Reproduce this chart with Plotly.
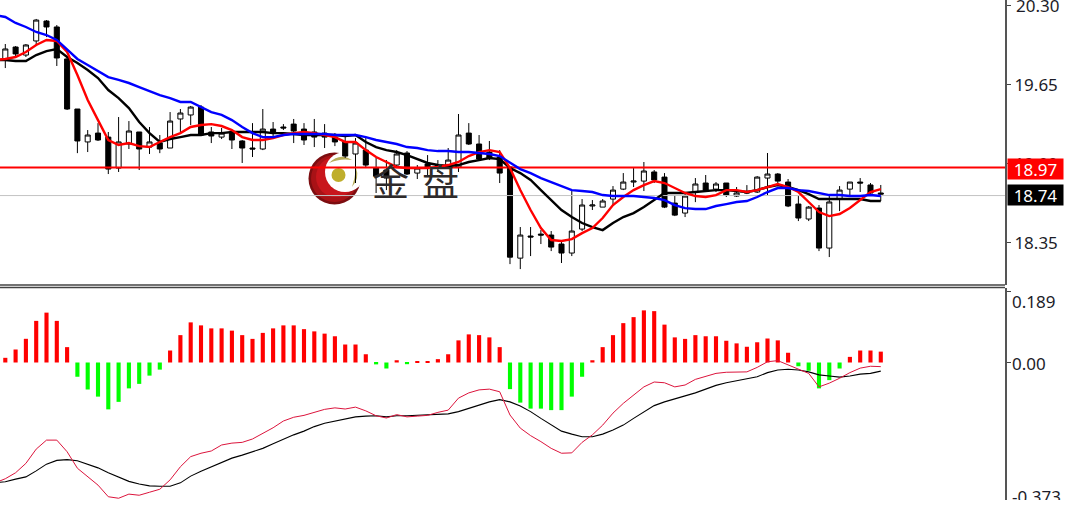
import plotly.graph_objects as go

# ---------- price panel data ----------
opens = [19.864,19.962,19.896,20.012,20.176,20.127,19.864,19.452,19.181,19.254,
 19.221,18.966,19.164,19.263,19.139,19.172,19.131,19.370,19.403,19.468,
 19.263,19.221,19.254,19.189,19.131,19.123,19.287,19.304,19.328,19.287,
 19.263,19.254,19.221,19.181,19.082,19.114,18.966,18.950,18.991,19.090,
 18.925,19.000,18.991,18.975,18.975,19.254,19.164,19.098,19.057,18.975,
 18.225,18.407,18.423,18.415,18.341,18.267,18.464,18.654,18.645,18.711,
 18.793,18.851,18.859,18.934,18.892,18.678,18.596,18.769,18.843,18.793,
 18.843,18.736,18.769,18.769,18.884,18.917,18.851,18.670,18.547,18.637,
 18.308,18.711,18.793,18.851,18.827,18.761]
highs = [19.987,19.970,19.987,20.193,20.184,20.143,19.888,19.452,19.279,19.336,
 19.263,19.386,19.353,19.263,19.304,19.238,19.427,19.452,19.477,19.485,
 19.304,19.296,19.263,19.197,19.336,19.452,19.345,19.328,19.370,19.336,
 19.370,19.328,19.254,19.238,19.213,19.213,19.049,19.032,19.114,19.106,
 18.991,19.073,19.032,19.131,19.411,19.336,19.238,19.189,19.114,18.975,
 18.481,18.481,18.456,18.448,18.366,18.777,18.711,18.703,18.711,18.818,
 18.925,18.966,19.016,18.950,18.925,18.744,18.752,18.884,18.909,18.851,
 18.843,18.810,18.826,18.900,19.090,18.925,18.876,18.736,18.654,18.662,
 18.744,18.818,18.851,18.884,18.843,18.827]
lows = [19.789,19.888,19.880,19.979,20.044,19.806,19.444,19.089,19.098,19.189,
 18.917,18.934,19.123,18.950,19.082,19.089,19.131,19.263,19.320,19.230,
 19.172,19.205,19.123,19.008,19.057,19.114,19.221,19.279,19.172,19.156,
 19.139,19.131,19.147,19.049,18.843,18.966,18.761,18.785,18.975,18.909,
 18.876,18.909,18.934,18.975,18.934,19.156,19.032,19.032,18.843,18.176,
 18.135,18.242,18.341,18.283,18.185,18.242,18.448,18.621,18.645,18.662,
 18.785,18.810,18.777,18.843,18.637,18.571,18.563,18.686,18.769,18.769,
 18.728,18.728,18.752,18.761,18.744,18.843,18.645,18.530,18.530,18.283,
 18.234,18.612,18.744,18.769,18.744,18.695]
closes = [19.946,19.905,19.979,20.184,20.127,19.872,19.452,19.189,19.238,19.197,
 18.958,19.181,19.271,19.123,19.181,19.123,19.353,19.419,19.468,19.238,
 19.230,19.254,19.197,19.131,19.123,19.287,19.263,19.296,19.271,19.197,
 19.221,19.221,19.181,19.065,19.172,18.991,18.900,18.884,19.082,18.917,
 18.966,18.966,18.975,19.032,19.238,19.164,19.040,19.049,18.925,18.233,
 18.415,18.399,18.415,18.316,18.267,18.448,18.662,18.662,18.695,18.785,
 18.851,18.859,18.942,18.868,18.645,18.579,18.736,18.835,18.785,18.835,
 18.744,18.761,18.761,18.892,18.917,18.859,18.654,18.555,18.645,18.308,
 18.687,18.785,18.851,18.843,18.761,18.752]
ma_blue = [20.226,20.209,20.160,20.127,20.086,20.061,20.020,19.938,19.864,19.814,19.765,
 19.715,19.691,19.666,19.633,19.600,19.567,19.542,19.510,19.510,19.468,
 19.427,19.403,19.361,19.304,19.254,19.221,19.221,19.238,19.246,19.246,
 19.246,19.246,19.238,19.238,
 19.238,19.221,19.197,19.181,19.164,19.139,19.131,19.114,19.106,19.106,
 19.098,19.098,19.090,19.082,19.065,19.008,18.958,18.925,18.884,18.851,
 18.818,18.785,18.777,18.769,18.744,18.736,18.736,18.736,18.728,18.720,
 18.703,18.662,18.637,18.629,18.629,18.654,18.670,18.687,18.695,18.728,
 18.769,18.802,18.802,18.785,18.777,18.761,18.744,18.744,18.736,18.736,18.744,18.736]
ma_red = [19.855,19.864,19.880,19.921,19.979,20.020,20.012,19.921,19.732,19.526,19.361,
 19.197,19.156,19.172,19.147,19.139,19.181,19.221,19.254,19.304,19.320,
 19.328,19.312,19.279,19.221,19.197,19.197,19.213,19.238,19.254,19.263,
 19.254,19.238,19.221,19.181,
 19.181,19.114,19.057,19.016,18.975,18.966,18.966,18.966,18.975,18.991,
 19.016,19.065,19.098,19.114,19.098,18.966,18.785,18.621,18.473,18.374,
 18.366,18.382,18.431,18.473,18.555,18.662,18.728,18.785,18.826,18.859,
 18.843,18.802,18.761,18.736,18.728,18.744,18.785,18.785,18.769,18.785,
 18.810,18.835,18.810,18.769,18.687,18.604,18.571,18.588,18.637,18.703,18.769,18.793]
ma_black = [19.855,19.855,19.847,19.847,19.896,19.929,19.946,19.880,19.831,19.773,19.707,
 19.608,19.542,19.460,19.345,19.254,19.181,19.205,19.221,19.238,19.238,
 19.254,19.254,19.263,19.263,19.263,19.263,19.254,19.254,19.246,19.238,
 19.238,19.238,19.238,19.230,
 19.238,19.181,19.139,19.114,19.098,19.073,19.040,19.008,18.991,18.983,
 18.991,19.016,19.032,19.049,19.040,18.966,18.925,18.868,18.785,18.703,
 18.621,18.563,18.514,18.481,18.456,18.514,18.563,18.596,18.645,18.703,
 18.761,18.761,18.761,18.769,18.777,18.785,18.785,18.777,18.769,18.785,
 18.810,18.826,18.810,18.785,18.752,18.711,18.711,18.711,18.711,18.711,18.695,18.695]
price_ticks = [20.30, 19.65, 19.00, 18.35]
price_tick_labels = ["20.30", "19.65", "19.00", "18.35"]
level_red = 18.97
level_last = 18.74

# ---------- MACD panel data ----------
hist = [.0125,.0347,.0632,.111,.133,.111,.041,-.038,-.072,-.091,
 -.125,-.105,-.069,-.057,-.035,-.019,.032,.073,.107,.099,
 .091,.091,.085,.073,.063,.079,.091,.099,.099,.089,
 .083,.077,.070,.048,.048,.022,-.005,-.016,.006,-.0045,
 .002,.003,.009,.022,.059,.075,.073,.067,.041,-.071,
 -.107,-.123,-.123,-.127,-.127,-.091,-.038,.006,.041,.073,
 .105,.121,.139,.137,.101,.067,.063,.073,.070,.070,
 .058,.051,.042,.054,.064,.059,.026,-.010,-.022,-.069,
 -.047,-.016,.015,.032,.032,.029]
macd_line = [-.321,-.310,-.294,-.269,-.231,-.207,-.207,-.238,-.282,-.305,-.327,
 -.358,-.362,-.351,-.354,-.346,-.338,-.313,-.278,-.251,-.242,
 -.236,-.220,-.215,-.213,-.204,-.189,-.174,-.156,-.146,-.141,
 -.132,-.125,-.121,-.124,
 -.119,-.129,-.142,-.148,-.139,-.145,-.143,-.141,-.133,-.127,
 -.095,-.081,-.073,-.071,-.078,-.140,-.175,-.195,-.211,-.229,
 -.242,-.241,-.213,-.193,-.167,-.135,-.109,-.087,-.065,-.052,
 -.054,-.065,-.060,-.045,-.038,-.029,-.026,-.026,-.025,-.013,
 .002,.005,-.007,-.018,-.029,-.065,-.055,-.042,-.027,-.015,-.010,-.011]
signal_line = [-.321,-.318,-.311,-.305,-.289,-.271,-.261,-.259,-.262,-.271,-.281,
 -.294,-.306,-.317,-.324,-.329,-.330,-.330,-.321,-.303,-.290,
 -.278,-.266,-.255,-.247,-.239,-.229,-.217,-.204,-.193,-.183,
 -.171,-.162,-.156,-.150,
 -.145,-.143,-.142,-.145,-.142,-.142,-.141,-.141,-.140,-.137,
 -.131,-.122,-.113,-.105,-.099,-.105,-.116,-.131,-.149,-.167,
 -.183,-.191,-.198,-.198,-.191,-.180,-.167,-.149,-.131,-.115,
 -.105,-.098,-.089,-.081,-.071,-.061,-.054,-.049,-.045,-.038,
 -.027,-.020,-.018,-.020,-.025,-.033,-.036,-.039,-.036,-.031,-.029,-.023]
macd_labels = ["0.189", "0.00", "-0.373"]

bars = list(range(len(opens)))
line_x = list(range(-1, len(opens)))

W, H, PW = 1065, 500, 1005
fx = lambda p: p / PW            # decoration pixel -> paper helpers
fy = lambda p: 1 - p / H

fig = go.Figure()
fig.add_trace(go.Scatter(x=[-1, 98], y=[level_last]*2, mode="lines",
                         line=dict(color="#c4c4c4", width=1), yaxis="y", hoverinfo="skip"))
fig.add_trace(go.Candlestick(x=bars, open=opens, high=highs, low=lows, close=closes,
    increasing=dict(line=dict(color="#000000", width=1), fillcolor="#ffffff"),
    decreasing=dict(line=dict(color="#000000", width=1), fillcolor="#000000"),
    whiskerwidth=0, yaxis="y", hoverinfo="skip"))
fig.add_trace(go.Scatter(x=[-1, 98], y=[level_red]*2, mode="lines",
                         line=dict(color="#ff0000", width=2), yaxis="y", hoverinfo="skip"))
for vals, col in ((ma_black, "#000000"), (ma_red, "#ff0000"), (ma_blue, "#0000ff")):
    fig.add_trace(go.Scatter(x=line_x, y=vals, mode="lines",
                             line=dict(color=col, width=2.4), yaxis="y", hoverinfo="skip"))

fig.add_trace(go.Bar(x=bars, y=hist, width=0.4,
                     marker=dict(color=["#ff0000" if v >= 0 else "#00ff00" for v in hist], line_width=0),
                     yaxis="y2", hoverinfo="skip"))
fig.add_trace(go.Scatter(x=line_x, y=signal_line, mode="lines",
                         line=dict(color="#000000", width=1.1), yaxis="y2", hoverinfo="skip"))
fig.add_trace(go.Scatter(x=line_x, y=macd_line, mode="lines",
                         line=dict(color="#dc143c", width=1), yaxis="y2", hoverinfo="skip"))

TXT = "#1c1c28"
FONT = "Noto Sans"
shapes = []
def circ(cx, cy, r, col):
    shapes.append(dict(type="circle", xref="paper", yref="paper", layer="below",
                       x0=fx(cx-r), x1=fx(cx+r), y0=fy(cy+r), y1=fy(cy-r),
                       fillcolor=col, line_width=0))
def arc(points, col):
    (a, b, c, d) = points
    shapes.append(dict(type="path", xref="paper", yref="paper", layer="below", line_width=0, fillcolor=col,
                       path=f"M {fx(a[0])} {fy(a[1])} Q {fx(b[0])} {fy(b[1])} {fx(c[0])} {fy(c[1])} "
                            f"Q {fx(d[0])} {fy(d[1])} {fx(a[0])} {fy(a[1])} Z"))
circ(334.5, 178.5, 26, "#7c0d10")
circ(334.5, 178.5, 23.5, "#a81216")
circ(336, 177, 20, "#c8161c")
circ(345, 172, 20, "#ffffff")
circ(338.5, 175, 7, "#bfae2c")
arc(((329, 163), (340, 152), (352, 160), (340, 158)), "#b7ad5a")
arc(((352, 187), (360, 178), (356, 168), (355, 178)), "#b7ad5a")

shapes.append(dict(type="line", xref="paper", yref="paper", x0=0, x1=1, y0=fy(285), y1=fy(285),
                   line=dict(color="#444444", width=1.5)))
shapes.append(dict(type="line", xref="paper", yref="paper", x0=0, x1=1, y0=fy(287.6), y1=fy(287.6),
                   line=dict(color="#444444", width=1.5)))

ann = []
for txt, bg, lvl, py in ((f"{level_red:.2f}", "#ff0000", level_red, 169.5),
                         (f"{level_last:.2f}", "#000000", level_last, 194.5)):
    ann.append(dict(text=txt, xref="paper", yref="paper", x=fx(1006.5), y=fy(py), xanchor="left", yanchor="middle",
                    showarrow=False, bgcolor=bg, width=55, height=20, borderpad=0, align="center",
                    font=dict(family=FONT, size=17, color="#ffffff")))
for txt, py in zip(macd_labels, (301, 363, 496)):
    ann.append(dict(text=txt, xref="paper", yref="paper", x=fx(1010), y=fy(py), xanchor="left", yanchor="middle",
                    showarrow=False, font=dict(family=FONT, size=17, color=TXT)))
for txt, px_x, px_y in (("金", 390, 180), ("盘", 440, 180)):
    ann.append(dict(text=txt, xref="paper", yref="paper", x=fx(px_x), y=fy(px_y), xanchor="center", yanchor="middle",
                    showarrow=False, font=dict(family="Noto Sans CJK SC", size=37, color="#2e2a2a")))
# the topmost price tick is too close to the page edge for the axis to draw its own label
ann.append(dict(text=price_tick_labels[0], xref="paper", yref="y", x=fx(1014), y=price_ticks[0], xanchor="left",
                yanchor="middle", showarrow=False, font=dict(family=FONT, size=17, color=TXT)))

axis_line = dict(side="right", anchor="x", showline=True, linecolor="#555555", linewidth=2,
                 ticks="outside", ticklen=4, tickcolor="#444444", tickwidth=1, showgrid=False, zeroline=False)
fig.update_layout(
    width=W, height=H, paper_bgcolor="#ffffff", plot_bgcolor="#ffffff",
    margin=dict(l=0, r=W-PW, t=0, b=0, autoexpand=False),
    showlegend=False, boxgap=0.3,
    xaxis=dict(range=[-0.515, 97.06], visible=False, rangeslider=dict(visible=False), anchor="y2"),
    yaxis=dict(domain=[1-285/H, 1], range=[18.004, 20.349], tickmode="array",
               tickvals=price_ticks, ticktext=["", price_tick_labels[1], price_tick_labels[2], price_tick_labels[3]],
               tickfont=dict(family=FONT, size=17, color=TXT), **axis_line),
    yaxis2=dict(domain=[0, 1-288/H], range=[-0.3667, 0.1987], tickmode="array",
                tickvals=[0.189, 0, -0.373], showticklabels=False, **axis_line),
    shapes=shapes, annotations=ann,
)
fig.write_html("out.html", config=dict(displayModeBar=False),
               post_script="document.body.style.margin='0';document.body.style.overflow='hidden';")
